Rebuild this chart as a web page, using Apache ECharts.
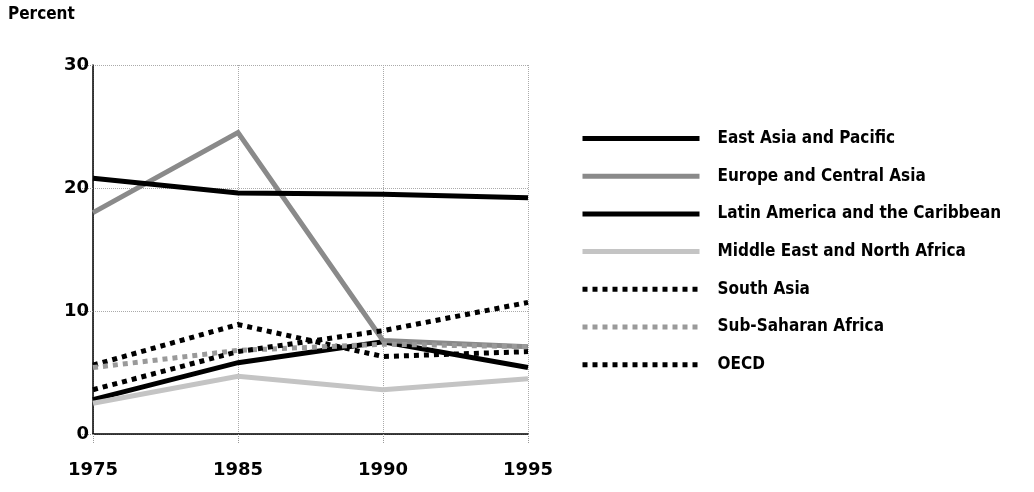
<!DOCTYPE html>
<html>
<head>
<meta charset="utf-8">
<script src="https://cdn.jsdelivr.net/npm/echarts@6/dist/echarts.min.js"></script>
<style>html,body{margin:0;padding:0;background:#fff}#c{width:1034px;height:492px}</style>
</head>
<body>
<div id="c"></div>
<script>
const years = ['1975', '1985', '1990', '1995'];
const yTicks = [0, 10, 20, 30];
const seriesNames = ['East Asia and Pacific', 'Europe and Central Asia', 'Latin America and the Caribbean', 'Middle East and North Africa', 'South Asia', 'Sub-Saharan Africa', 'OECD'];
const eastAsia = [2.8, 5.8, 7.5, 5.4];
const europe = [18.0, 24.5, 7.6, 7.1];
const latinAmerica = [20.8, 19.6, 19.5, 19.2];
const middleEast = [2.5, 4.7, 3.6, 4.5];
const southAsia = [5.6, 8.9, 6.3, 6.7];
const subSaharan = [5.4, 6.8, 7.3, 7.1];
const oecd = [3.6, 6.7, 8.4, 10.7];

const values = [eastAsia, europe, latinAmerica, middleEast, southAsia, subSaharan, oecd];
const styles = [
  {color: '#000', width: 5, type: 'solid'},
  {color: '#8a8a8a', width: 5, type: 'solid'},
  {color: '#000', width: 5, type: 'solid'},
  {color: '#c4c4c4', width: 5, type: 'solid'},
  {color: '#000', width: 5, type: [5, 5]},
  {color: '#9a9a9a', width: 5, type: [5, 5]},
  {color: '#000', width: 5, type: [5, 5]}
];
const tickFont = {fontFamily: 'DejaVu Sans', fontWeight: 'bold', fontSize: 18, color: '#000'};

const chart = echarts.init(document.getElementById('c'), null, {renderer: 'canvas'});
chart.setOption({
  animation: false,
  backgroundColor: '#fff',
  title: {
    text: 'Percent', left: 8, top: 6, padding: 0,
    textStyle: {fontFamily: 'DejaVu Sans Condensed', fontWeight: 'bold', fontSize: 17, color: '#000'}
  },
  grid: {left: 93, right: 506, top: 65, bottom: 58},
  legend: {
    orient: 'vertical', left: 580, top: 130, padding: 0,
    itemWidth: 117, itemHeight: 14, itemGap: 20.7,
    data: seriesNames,
    itemStyle: {opacity: 0},
    lineStyle: {width: 5},
    textStyle: {fontFamily: 'DejaVu Sans Condensed', fontWeight: 'bold', fontSize: 17, color: '#000', padding: [0, 0, 0, 13]}
  },
  xAxis: {
    type: 'category', data: years, boundaryGap: false,
    axisLine: {lineStyle: {color: '#000', width: 1.5}},
    axisTick: {show: true, length: 10, lineStyle: {color: '#999', type: 'dotted'}},
    axisLabel: Object.assign({margin: 27}, tickFont),
    splitLine: {show: true, lineStyle: {color: '#aaa', type: 'dotted', width: 1}}
  },
  yAxis: {
    type: 'value', min: 0, max: 30, interval: 10,
    axisLine: {show: true, lineStyle: {color: '#000', width: 1.5}},
    axisTick: {show: true, length: 14, lineStyle: {color: '#999', type: 'dotted'}},
    axisLabel: Object.assign({margin: 4, formatter: v => yTicks.includes(v) ? String(v) : ''}, tickFont),
    splitLine: {show: true, lineStyle: {color: '#aaa', type: 'dotted', width: 1}}
  },
  series: seriesNames.map((n, i) => ({
    name: n, type: 'line', data: values[i], symbol: 'none',
    lineStyle: Object.assign({cap: 'butt', join: 'miter'}, styles[i]),
    itemStyle: {color: styles[i].color}
  }))
});
</script>
</body>
</html>
